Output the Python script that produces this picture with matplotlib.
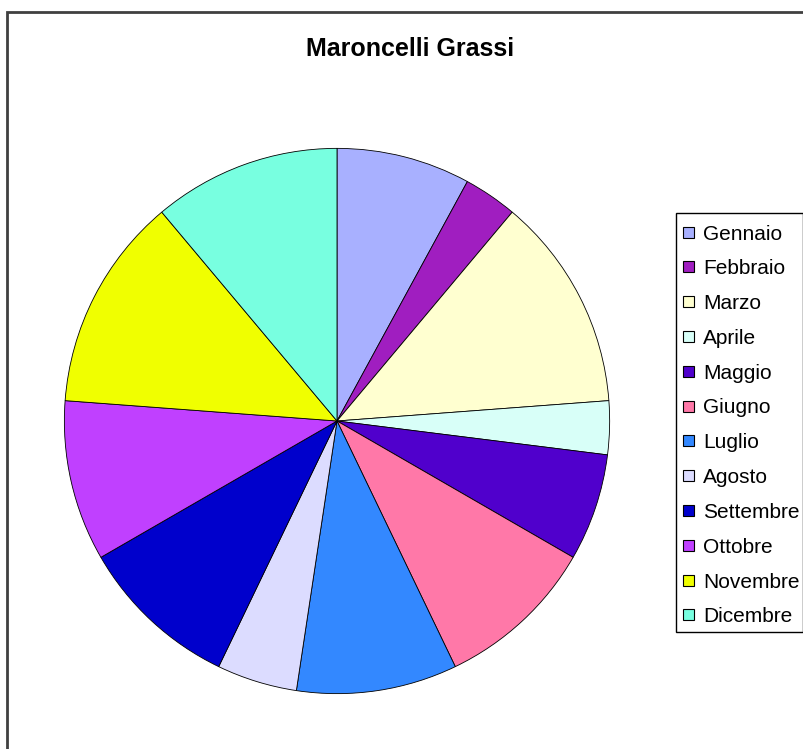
import matplotlib.pyplot as plt
from matplotlib.patches import Rectangle

# monthly counts
months = ['Gennaio', 'Febbraio', 'Marzo', 'Aprile', 'Maggio', 'Giugno',
          'Luglio', 'Agosto', 'Settembre', 'Ottobre', 'Novembre', 'Dicembre']
counts = [5, 2, 8, 2, 4, 6, 6, 3, 6, 6, 8, 7]
colors = ['#A8B0FF', '#A01EC0', '#FFFFD0', '#D8FFF8', '#5000CC', '#FF78A8',
          '#3388FF', '#DCDCFF', '#0000CC', '#C040FF', '#F0FF00', '#78FFE0']
title = 'Maroncelli Grassi'

W, H = 804, 749
plt.rcParams['font.family'] = ['Liberation Sans', 'DejaVu Sans']

fig = plt.figure(figsize=(W / 100, H / 100), dpi=100)


def px(x, y):
    # pixel coords (from top-left) to figure fraction
    return x / W, 1 - y / H


# outer frame (right and bottom edges fall outside the canvas)
fx, fy = px(7, 12)
fig.patches.append(Rectangle((fx, -0.05), 1.1, fy + 0.05, transform=fig.transFigure,
                             fill=False, edgecolor='#404040', linewidth=2))

# pie
cx, cy, r = 337, 421, 274
ax = fig.add_axes([(cx - r) / W, (H - cy - r) / H, 2 * r / W, 2 * r / H])
ax.pie(counts, colors=colors, startangle=90, counterclock=False, radius=1,
       wedgeprops=dict(edgecolor='black', linewidth=0.6))
ax.set_xlim(-1.005, 1.005)
ax.set_ylim(-1.005, 1.005)
ax.set_aspect('auto')

tx, ty = px(410, 49)
fig.text(tx, ty, title, ha='center', va='center', fontsize=18, fontweight='bold')

# legend box
lx0, ly0 = px(676, 632)
lx1, ly1 = px(803, 213)
fig.patches.append(Rectangle((lx0, ly0), lx1 - lx0, ly1 - ly0, transform=fig.transFigure,
                             fill=False, edgecolor='black', linewidth=1))
row0, step, sq = 232, 34.8, 11
for i, (name, c) in enumerate(zip(months, colors)):
    yc = row0 + i * step
    sx, sy = px(683, yc + sq / 2)
    fig.patches.append(Rectangle((sx, sy), sq / W, sq / H, transform=fig.transFigure,
                                 facecolor=c, edgecolor='black', linewidth=0.8))
    tx, ty = px(703, yc + 7.5)
    fig.text(tx, ty, name, ha='left', va='baseline', fontsize=15)

fig.savefig('out.png', dpi=100)
